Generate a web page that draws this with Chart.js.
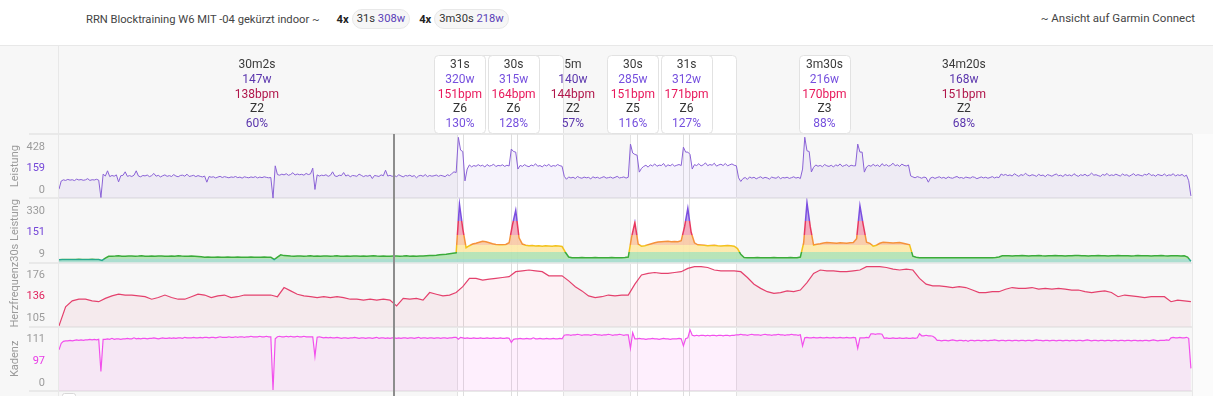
<!DOCTYPE html>
<html><head><meta charset="utf-8">
<script src="https://cdn.jsdelivr.net/npm/chart.js@4.4.1/dist/chart.umd.min.js"></script>
<style>
html,body{margin:0;padding:0;background:#f7f7f7;width:1213px;height:396px;overflow:hidden;font-family:Roboto,"Noto Sans",sans-serif;}
#c{position:absolute;left:0;top:0;}
#hdr{position:absolute;left:0;top:0;width:1213px;height:45px;background:#fff;border-bottom:1px solid #e8e8e8;color:#444;font-size:11px;}
#ttl{position:absolute;left:86px;top:9px;height:20px;display:flex;align-items:center;white-space:nowrap;font-size:11.2px;}
#ttl b{color:#222;margin-left:17px;font-weight:700;}
#ttl .pill{display:inline-block;margin-left:3px;padding:0 4px;height:18px;line-height:18px;border:1px solid #e8e8e8;background:#f6f6f6;border-radius:10px;color:#333;}
#ttl .pill .w{color:#5a3fb8;}
#ttl b.gap{margin-left:9px;}
#gc{position:absolute;right:18px;top:9px;height:18px;line-height:18px;white-space:nowrap;font-size:11.5px;}
</style></head><body>
<canvas id="c" width="1213" height="396"></canvas>
<div id="hdr"><div id="ttl"></div><div id="gc"></div></div>
<script>
// ---------------- DATA ----------------
const titleText = 'RRN Blocktraining W6 MIT -04 gekürzt indoor ~';
const sumCount = [4, 4];
const sumDur = ['31s', '3m30s'];
const sumWatts = [308, 218];
const linkText = '~ Ansicht auf Garmin Connect';

const totalSec = 5135;
const STEP_POWER = 10, STEP_CAD = 10, STEP_HR = 30, STEP_P30 = 15;

const powerW = [
62,118,126,122,129,124,127,121,131,125,
128,123,126,134,122,127,125,130,124,5,
165,152,188,148,156,151,160,112,154,157,
181,150,155,149,158,188,152,147,156,153,
159,148,155,170,151,157,146,154,160,150,
155,149,162,152,147,156,158,151,165,149,
153,157,148,155,150,146,152,110,149,144,
147,139,145,150,142,148,144,140,146,143,
149,141,145,138,147,143,140,146,142,148,
139,145,141,147,143,140,142,0,222,162,
158,165,160,168,157,163,175,159,166,161,
164,158,170,162,167,206,60,160,152,158,
155,161,150,157,181,153,149,158,155,176,
152,160,147,156,154,150,165,157,148,155,
151,159,135,156,153,149,160,154,192,152,
157,150,155,148,161,153,146,156,152,158,
149,155,140,153,157,150,162,148,156,151,
154,159,150,157,153,148,161,155,168,181,
176,417,330,320,119,200,228,215,224,219,
230,221,226,214,231,220,224,233,217,225,
222,229,218,226,221,337,320,316,200,225,
218,230,221,216,227,222,236,219,224,215,
228,221,232,217,224,220,231,223,219,150,
130,146,139,144,135,149,141,137,145,140,
143,133,147,139,144,136,142,148,138,141,
145,137,143,150,139,142,146,138,144,371,
310,300,295,179,205,218,226,213,229,221,
235,219,227,224,238,216,229,222,233,220,
226,231,224,350,316,316,300,200,230,224,
237,221,229,242,223,231,226,240,220,228,
233,224,238,222,229,235,226,222,140,115,
135,142,129,146,138,144,133,141,147,136,
143,139,131,145,140,137,148,134,142,139,
144,136,141,147,138,143,135,200,418,325,
320,180,212,228,219,225,216,231,222,218,
226,214,229,221,235,218,224,230,217,226,
222,222,371,316,316,179,214,225,219,232,
221,228,216,237,223,230,219,226,240,222,
229,218,234,225,221,228,153,146,140,148,
143,137,145,141,110,139,144,136,142,147,
138,143,135,146,140,137,144,149,139,142,
136,145,141,138,147,143,134,140,146,139,
144,137,142,148,139,145,141,166,157,163,
155,160,152,168,158,150,162,156,171,159,
153,161,157,150,164,155,159,148,162,157,
151,160,166,154,158,149,163,155,160,152,
168,157,150,161,156,164,153,159,172,158,
161,155,150,163,157,170,154,160,156,165,
158,152,166,157,161,150,159,168,155,162,
157,153,164,159,171,156,160,151,163,158,
155,166,153,160,157,168,152,161,156,163,
150,158,120,16
];

const power30sW = [
120,122,123,124,123,124,125,124,123,124,125,124,123,
108,140,157,
157,158,160,157,156,158,159,157,158,160,157,156,158,157,159,158,157,156,158,157,160,158,157,156,158,157,155,152,
149,150,149,148,150,149,149,150,148,149,150,149,148,149,150,149,148,149,150,149,148,
123,150,168,
162,160,158,157,158,159,157,158,160,157,158,157,159,158,157,158,160,157,156,158,157,159,158,157,158,157,159,160,158,157,158,156,157,159,158,157,158,160,157,158,157,159,158,160,162,163,165,168,170,172,176,179,
182,
330,275,209,218,225,
228,232,236,234,230,226,
223,222,
222,223,230,
285,318,248,225,
220,218,219,217,218,216,218,217,216,218,217,215,
185,150,143,
144,143,145,144,143,144,145,143,144,143,144,145,144,143,144,145,
150,
250,291,225,216,
218,222,226,230,233,234,235,236,234,235,
234,238,280,322,265,230,
222,221,220,218,219,220,218,217,218,219,218,216,
205,171,146,
144,143,144,145,143,144,143,144,145,144,143,144,143,145,144,143,
150,230,333,280,221,
224,226,229,231,230,229,228,230,229,228,230,231,
245,327,285,232,
228,216,220,228,232,231,230,229,230,231,228,225,222,
157,148,144,
143,144,143,142,143,144,143,142,143,144,143,143,142,143,144,143,142,143,144,143,142,143,145,
150,160,
161,160,159,161,160,162,161,159,160,161,162,160,159,161,160,162,161,160,159,161,160,162,163,161,160,159,161,160,162,161,160,159,161,160,162,161,160,161,159,160,162,161,160,161,159,160,161,162,160,159,161,160,161,159,160,
150,93
];

const heartBpm = [
105,128,135,137,137,135,134,138,141,143,
142,142,141,140,137,139,142,139,137,137,
140,143,142,139,141,142,139,140,142,142,
142,142,142,140,151,147,143,141,140,139,
140,139,140,139,137,137,136,137,136,137,
136,129,138,137,138,136,145,143,141,142,
145,152,162,162,160,161,162,163,164,170,
171,172,171,170,165,165,165,159,152,147,
141,139,140,142,141,142,142,155,166,168,
169,168,168,169,170,174,176,176,175,172,
171,171,171,170,163,155,150,146,144,145,
147,146,148,157,168,172,171,171,170,170,
171,172,176,176,176,175,173,172,173,172,
162,155,153,153,152,151,152,151,148,145,
145,146,146,149,151,150,150,151,149,150,
149,150,149,148,148,146,145,146,147,145,
140,142,141,140,139,140,140,140,134,136,
135,134
];

const cadenceRpm = [
82,95,99,100,100,101,100,101,102,101,
102,101,102,102,103,102,103,102,103,39,
103,103,104,103,105,103,104,104,103,104,
104,105,104,104,106,104,105,104,105,105,
104,105,105,106,105,104,105,106,105,105,
106,105,106,105,106,106,105,107,106,106,
106,107,106,106,107,106,107,107,106,107,
107,106,107,108,107,107,107,108,107,107,
108,107,108,108,107,108,108,109,108,108,
108,109,108,108,109,108,108,2,104,108,
109,108,108,109,108,109,108,108,109,108,
108,109,108,108,108,108,69,107,108,107,
106,107,106,107,106,106,107,106,105,106,
106,105,106,106,107,106,105,106,106,105,
106,106,105,106,107,105,106,106,105,106,
105,106,106,105,106,105,106,106,105,106,
106,105,106,107,105,106,106,105,106,106,
105,106,106,105,106,106,105,106,106,107,
107,103,107,106,105,106,105,105,106,105,
105,106,105,105,106,105,105,106,105,105,
106,105,105,106,105,97,103,104,104,105,
104,104,105,104,104,106,104,104,105,104,
104,105,104,104,105,104,104,105,104,111,
112,112,111,112,112,113,112,111,112,112,
112,111,112,113,112,112,111,112,112,113,
112,111,112,112,113,112,111,112,112,85,
116,104,104,105,104,104,103,104,104,105,
104,104,103,104,105,104,104,103,104,104,
104,105,104,90,104,106,122,111,110,111,
110,111,111,110,111,110,111,111,110,111,
111,110,111,111,110,111,111,112,112,113,
112,112,111,112,113,112,112,112,111,112,
113,112,112,111,112,112,113,112,112,111,
112,112,113,112,112,111,112,90,106,107,
106,106,107,106,106,107,106,106,107,106,
106,107,106,106,107,106,106,107,106,106,
107,106,85,106,106,106,107,106,114,114,
113,114,114,113,105,106,105,105,106,105,
105,106,105,105,106,105,105,106,105,106,
114,110,110,111,110,110,109,106,101,101,
100,101,101,100,101,102,101,100,101,101,
100,101,99,101,101,100,101,101,100,101,
101,100,101,101,102,101,100,101,101,100,
101,101,100,101,101,100,101,101,100,101,
101,100,101,102,101,101,100,101,101,100,
101,101,100,101,101,100,101,101,100,101,
101,100,101,101,100,101,102,101,100,101,
101,100,101,101,100,101,101,100,101,101,
100,101,101,100,101,101,100,101,101,100,
101,100,101,101,100,101,102,101,100,101,
101,101,102,101,106,107,106,106,107,106,
106,107,105,45
];

const zoneLimitsW = [135, 184, 221, 258, 295];     // FTP ~246 W

const tickPower = ['0', '159', '428'];               // bottom, average, top
const tick30s = ['9', '151', '330'];
const tickHR = ['105', '136', '176'];
const tickCad = ['0', '97', '111'];
const axisTitles = ['Leistung', '30s Leistung', 'Herzfrequenz', 'Kadenz'];

const segDur = ['30m2s', '31s', '30s', '5m', '30s', '31s', '3m30s', '34m20s'];
const segWatts = [147, 320, 315, 140, 285, 312, 216, 168];
const segBpm = [138, 151, 164, 144, 151, 171, 170, 151];
const segZone = ['Z2', 'Z6', 'Z6', 'Z2', 'Z5', 'Z6', 'Z3', 'Z2'];
const segPct = [60, 130, 128, 57, 116, 127, 88, 68];
const segAtSec = [897, 1817, 2060, 2329, 2601, 2844, 3469, 4101];
const segIsInterval = [false, true, true, false, true, true, true, false];

const workLapStart = [1802, 2588];
const workLapEnd = [2286, 3068];
const lapMarksSec = [1832, 2047, 2077, 2618, 2827, 2857];
const cursorSec = 1518;

// ---------------- HEADER ----------------
(function () {
  const t = document.getElementById('ttl');
  let h = '<span>' + titleText + '</span>';
  sumCount.forEach((n, k) => {
    h += '<b' + (k ? ' class="gap"' : '') + '>' + n + 'x</b><span class="pill">' + sumDur[k] + ' <span class="w">' + sumWatts[k] + 'w</span></span>';
  });
  t.innerHTML = h;
  document.getElementById('gc').textContent = linkText;
})();

// ---------------- CUBE SCALE (30s power display) ----------------
class CubeScale extends Chart.LinearScale {
  getPixelForValue(value) {
    if (value === null || value === undefined || isNaN(value)) return NaN;
    const r = Math.max(0, (value - this.min) / (this.max - this.min));
    return this.getPixelForDecimal(r * r * r);
  }
  getValueForPixel(pixel) {
    return this.min + Math.cbrt(Math.max(0, this.getDecimalForPixel(pixel))) * (this.max - this.min);
  }
}
CubeScale.id = 'cube';
CubeScale.defaults = Chart.LinearScale.defaults;
Chart.register(CubeScale);

// ---------------- STYLE ----------------
const FONT = 'Roboto';
const tickFrac = [0.128, 0.47, 0.8];
const zoneLine = ['#27a98d', '#3aab3a', '#f3c21b', '#f5923a', '#e7385f', '#7b4ee0'];
const zoneFill = ['rgba(165,219,204,0.92)', 'rgba(178,226,178,0.92)', 'rgba(253,232,168,0.92)',
                  'rgba(248,201,166,0.92)', 'rgba(242,165,184,0.92)', 'rgba(184,162,234,0.92)'];

function zoneGradient(chart, colors) {
  const s = chart.scales.y30;
  if (!s || !isFinite(s.bottom) || s.bottom === s.top) return colors[1];
  const g = chart.ctx.createLinearGradient(0, s.bottom, 0, s.top);
  const H = s.bottom - s.top;
  let prev = 0;
  zoneLimitsW.forEach((w, k) => {
    const f = Math.min(1, Math.max(0, (s.bottom - s.getPixelForValue(w)) / H));
    g.addColorStop(prev, colors[k]); g.addColorStop(f, colors[k]); prev = f;
  });
  g.addColorStop(prev, colors[colors.length - 1]); g.addColorStop(1, colors[colors.length - 1]);
  return g;
}

function yAxis(min, max, labels, midColor, title, cube) {
  return {
    type: cube ? 'cube' : 'linear', position: 'left', stack: 'panels', stackWeight: 1,
    min: min, max: max, bounds: 'data',
    grid: { display: false }, border: { display: false },
    afterBuildTicks: (s) => {
      s.ticks = tickFrac.map(f => ({ value: s.min + (cube ? Math.cbrt(f) : f) * (s.max - s.min) }));
    },
    afterFit: (s) => { s.width = 59; s.paddingTop = 0; s.paddingBottom = 0; },
    ticks: {
      autoSkip: false, padding: 6, font: { family: FONT, size: 11 },
      color: (c) => c.index === 1 ? midColor : '#9b9b9b',
      callback: (v, i) => labels[i]
    },
    title: { display: true, text: title, color: '#9b9b9b', font: { family: FONT, size: 11 }, padding: { top: 9, bottom: 0 } }
  };
}

const series = (vals, step) => vals.map((v, i) => ({ x: i * step, y: v }));

function roundTopRect(ctx, x, y, w, h, r) {
  ctx.beginPath();
  ctx.moveTo(x, y + h); ctx.lineTo(x, y + r); ctx.quadraticCurveTo(x, y, x + r, y);
  ctx.lineTo(x + w - r, y); ctx.quadraticCurveTo(x + w, y, x + w, y + r); ctx.lineTo(x + w, y + h);
}
function roundRect(ctx, x, y, w, h, r) {
  ctx.beginPath();
  ctx.moveTo(x + r, y); ctx.lineTo(x + w - r, y); ctx.quadraticCurveTo(x + w, y, x + w, y + r);
  ctx.lineTo(x + w, y + h - r); ctx.quadraticCurveTo(x + w, y + h, x + w - r, y + h);
  ctx.lineTo(x + r, y + h); ctx.quadraticCurveTo(x, y + h, x, y + h - r);
  ctx.lineTo(x, y + r); ctx.quadraticCurveTo(x, y, x + r, y); ctx.closePath();
}

const decor = {
  id: 'decor',
  beforeDraw(chart) {
    const { ctx, chartArea: a, scales } = chart;
    const xs = scales.x;
    ctx.save();
    ctx.fillStyle = '#fbfbfb';
    ctx.fillRect(a.right + 1, a.top, chart.width - a.right, chart.height - a.top);
    for (let k = 0; k < workLapStart.length; k++) {
      const x0 = Math.round(xs.getPixelForValue(workLapStart[k])) + 0.5;
      const x1 = Math.round(xs.getPixelForValue(workLapEnd[k])) + 0.5;
      roundTopRect(ctx, x0, 55.5, x1 - x0, chart.height, 4);
      ctx.fillStyle = '#ffffff'; ctx.fill();
      ctx.strokeStyle = '#e2e2e2'; ctx.lineWidth = 1; ctx.stroke();
    }
    ctx.strokeStyle = '#e9e9e9'; ctx.lineWidth = 2;
    const ys = ['yP', 'y30', 'yHR', 'yCad'].map(id => scales[id]);
    const hs = new Set();
    ys.forEach(s => { hs.add(Math.round(s.top)); hs.add(Math.round(s.bottom)); });
    hs.forEach(y => { ctx.beginPath(); ctx.moveTo(29, y); ctx.lineTo(a.right, y); ctx.stroke(); });
    ctx.lineWidth = 1; ctx.strokeStyle = '#e8e8e8';
    ctx.beginPath(); ctx.moveTo(Math.round(a.left) - 0.5, 46); ctx.lineTo(Math.round(a.left) - 0.5, chart.height); ctx.stroke();
    ctx.beginPath(); ctx.moveTo(Math.round(a.right) + 0.5, a.top); ctx.lineTo(Math.round(a.right) + 0.5, chart.height); ctx.stroke();
    roundRect(ctx, 62.5, 393.5, 13, 10, 2); ctx.fillStyle = '#fff'; ctx.fill(); ctx.strokeStyle = '#d8d8d8'; ctx.stroke();
    ctx.restore();
  },
  beforeDatasetsDraw(chart) {
    const { ctx, chartArea: a, scales } = chart;
    ctx.save();
    ctx.strokeStyle = '#dedede'; ctx.lineWidth = 1;
    lapMarksSec.forEach(t => {
      const x = Math.round(scales.x.getPixelForValue(t)) + 0.5;
      ctx.beginPath(); ctx.moveTo(x, a.top); ctx.lineTo(x, chart.height); ctx.stroke();
    });
    ctx.restore();
  },
  afterDatasetsDraw(chart) {
    const { ctx, chartArea: a, scales } = chart;
    ctx.save();
    const x = Math.round(scales.x.getPixelForValue(cursorSec));
    ctx.strokeStyle = '#8d8d8d'; ctx.lineWidth = 2;
    ctx.beginPath(); ctx.moveTo(x, a.top); ctx.lineTo(x, chart.height); ctx.stroke();
    ctx.restore();
  },
  afterDraw(chart) {
    const { ctx, scales } = chart;
    ctx.save();
    segDur.forEach((d, k) => {
      if (!segIsInterval[k]) return;
      const cx = scales.x.getPixelForValue(segAtSec[k]);
      roundRect(ctx, Math.round(cx - 25.5) + 0.5, 55.5, 51, 78, 4);
      ctx.fillStyle = '#fff'; ctx.fill(); ctx.strokeStyle = '#e2e2e2'; ctx.lineWidth = 1; ctx.stroke();
    });
    ctx.font = '12px ' + FONT;
    ctx.textAlign = 'center'; ctx.textBaseline = 'middle';
    segDur.forEach((d, k) => {
      const cx = scales.x.getPixelForValue(segAtSec[k]);
      const iv = segIsInterval[k];
      const rows = [
        [d, '#3a3a3a'],
        [segWatts[k] + 'w', iv ? '#7650de' : '#5b36ad'],
        [segBpm[k] + 'bpm', iv ? '#e8185b' : '#b0164a'],
        [segZone[k], '#333333'],
        [segPct[k] + '%', iv ? '#7650de' : '#5b36ad']
      ];
      rows.forEach((r, j) => { ctx.fillStyle = r[1]; ctx.fillText(r[0], cx, 65 + j * 14.8); });
    });
    ctx.restore();
  }
};

new Chart(document.getElementById('c'), {
  type: 'line',
  data: {
    datasets: [
      { data: series(powerW, STEP_POWER), yAxisID: 'yP', borderColor: '#8a62d6', backgroundColor: 'rgba(138,98,214,0.08)', fill: 'start', borderWidth: 1 },
      { data: series(power30sW, STEP_P30), yAxisID: 'y30', borderColor: (c) => zoneGradient(c.chart, zoneLine), backgroundColor: (c) => zoneGradient(c.chart, zoneFill), fill: 'start', borderWidth: 1.5 },
      { data: series(heartBpm, STEP_HR), yAxisID: 'yHR', borderColor: '#e4416d', backgroundColor: 'rgba(228,65,109,0.07)', fill: 'start', borderWidth: 1.2 },
      { data: series(cadenceRpm, STEP_CAD), yAxisID: 'yCad', borderColor: '#f250ec', backgroundColor: 'rgba(242,80,236,0.09)', fill: 'start', borderWidth: 1.2 }
    ]
  },
  options: {
    responsive: false, animation: false, devicePixelRatio: 1, events: [],
    elements: { point: { radius: 0 }, line: { tension: 0 } },
    layout: { padding: { left: 0, top: 134, right: 21, bottom: 5 } },
    plugins: { legend: { display: false }, tooltip: { enabled: false } },
    scales: {
      x: { type: 'linear', display: false, min: 0, max: totalSec },
      yCad: yAxis(0, 128, tickCad, '#e83ae6', axisTitles[3], false),
      yHR: yAxis(104, 181, tickHR, '#e0245e', axisTitles[2], false),
      y30: yAxis(0, 341, tick30s, '#7446d8', axisTitles[1], true),
      yP: yAxis(0, 440, tickPower, '#7446d8', axisTitles[0], false)
    }
  },
  plugins: [decor]
});
</script>
</body></html>
